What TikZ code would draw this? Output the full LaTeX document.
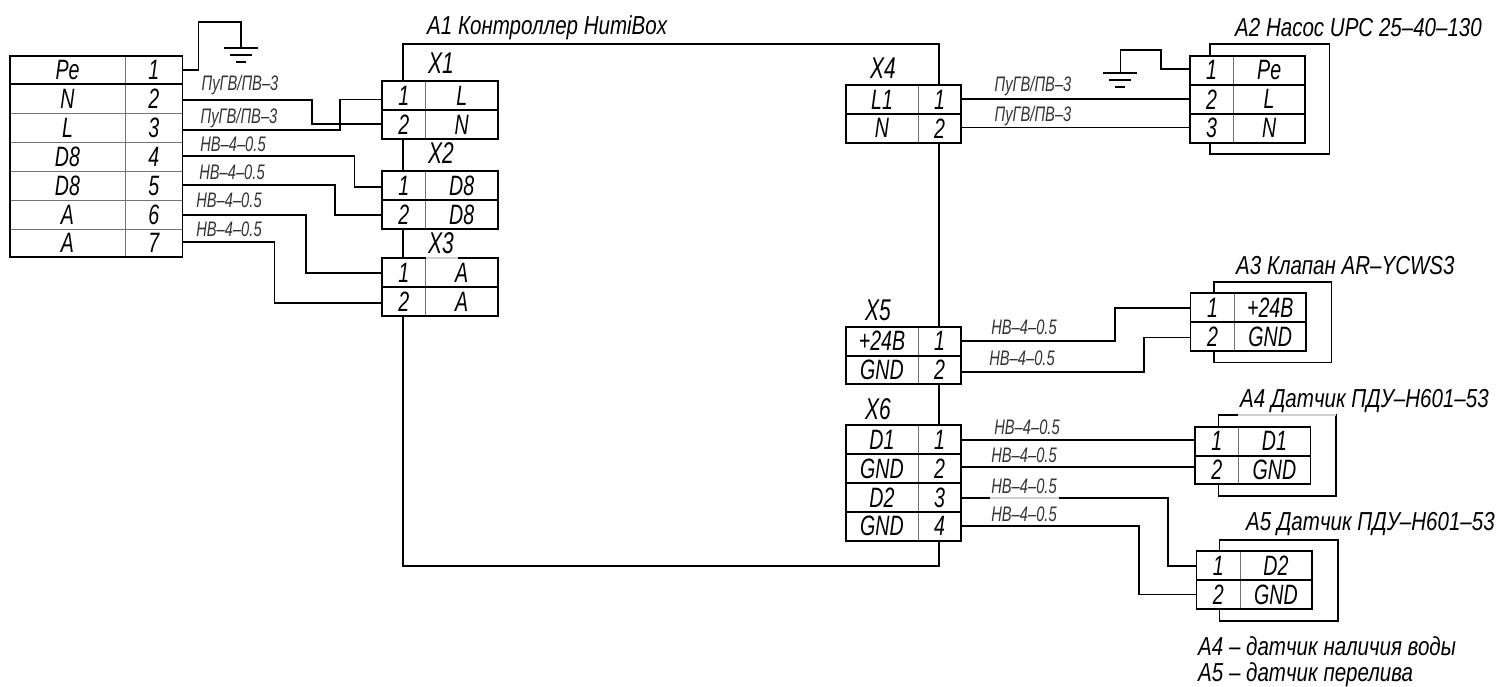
\documentclass[tikz,border=0pt]{standalone}
\usepackage{fontspec}
\setmainfont{Liberation Sans}[FakeStretch=0.7]
\newfontfamily\titlefont{Liberation Sans}[FakeStretch=0.79]

\tikzset{
  cell/.style={draw=black!55,line width=0.7pt,inner sep=0pt,outer sep=0pt,font=\fontsize{28}{28}\selectfont\itshape},
  wire/.style={line width=1.6pt},
  frame/.style={line width=1.7pt},
  faded/.style={line width=1.7pt,draw=black!18},
  title/.style={inner sep=0pt,anchor=west,font=\fontsize{26}{26}\titlefont\itshape},
  conn/.style={inner sep=0pt,font=\fontsize{30}{30}\selectfont\itshape},
  wirelabel/.style={inner sep=0pt,font=\fontsize{21}{21}\selectfont\itshape,text=black!80}
}

\begin{document}
\begin{tikzpicture}[x=1pt,y=-1pt]
\useasboundingbox (0,0) rectangle (1499,687);

\foreach \name/\xa/\xb/\xc/\ya/\yb/\ta/\tb in {
  P1/10/125/182.5/56/84/Pe/1, P2/10/125/182.5/84/113.5/N/2, P3/10/125/182.5/113.5/142.5/L/3,
  P4/10/125/182.5/142.5/171.5/D8/4, P5/10/125/182.5/171.5/200/D8/5, P6/10/125/182.5/200/229/A/6, P7/10/125/182.5/229/257/A/7,
  X11/382/425.7/497.7/81.3/110/1/L, X12/382/425.7/497.7/110/139/2/N,
  X21/382/425.7/497.7/171.3/200.3/1/D8, X22/382/425.7/497.7/200.3/229/2/D8,
  X31/382/425.7/497.7/258.3/287/1/A, X32/382/425.7/497.7/287/316/2/A,
  X41/846/918/961/85/114/L1/1, X42/846/918/961/114/142.7/N/2,
  X51/846/918/961/326.7/355.7/+24В/1, X52/846/918/961/355.7/384.3/GND/2,
  X61/846/918/961/425.3/454/D1/1, X62/846/918/961/454/483/GND/2, X63/846/918/961/483/512/D2/3, X64/846/918/961/512/540.7/GND/4,
  A21/1189.7/1233.3/1305/55.7/85/1/Pe, A22/1189.7/1233.3/1305/85/113.7/2/L, A23/1189.7/1233.3/1305/113.7/142.7/3/N,
  A31/1190.6/1234.5/1306/293.3/322.3/1/+24В, A32/1190.6/1234.5/1306/322.3/351/2/GND,
  A41/1195.3/1238.3/1310.5/426.7/455.7/1/D1, A42/1195.3/1238.3/1310.5/455.7/484.3/2/GND,
  A51/1196.5/1240/1312/551.3/580.3/1/D2, A52/1196.5/1240/1312/580.3/609/2/GND}{
  \pgfmathsetmacro\wa{\xb-\xa}
  \pgfmathsetmacro\wb{\xc-\xb}
  \pgfmathsetmacro\hh{\yb-\ya}
  \node [cell,minimum width=\wa pt,minimum height=\hh pt] (\name a) at ({(\xa+\xb)/2},{(\ya+\yb)/2}) {\ta};
  \node [cell,minimum width=\wb pt,minimum height=\hh pt] (\name b) at ({(\xb+\xc)/2},{(\ya+\yb)/2}) {\tb};
}

% heavy rules over the cells
\foreach \first/\last in {P1/P7,X11/X12,X21/X22,X31/X32,X41/X42,X51/X52,X61/X64,A21/A23,A31/A32,A41/A42,A51/A52}
  \draw [frame] (\first a.north west) rectangle (\last b.south east);
\foreach \row in {P1,X11,X21,X31,X41,X51,X61,X62,X63,A21,A22,A31,A41,A51}
  \draw [frame] (\row a.south west) -- (\row b.south east);

% controller outline
\coordinate (ctl) at (403,44);
\coordinate (ctr) at (939,44);
\coordinate (cbl) at (403,566);
\coordinate (cbr) at (939,566);
\draw [wire] (ctl |- X11a.north) -- (ctl) -- (ctr) -- (ctr |- X41a.north);
\draw [wire] (ctl |- X12a.south) -- (ctl |- X21a.north);
\draw [wire] (ctl |- X22a.south) -- (ctl |- X31a.north);
\draw [wire] (ctl |- X32a.south) -- (cbl) -- (cbr) -- (cbr |- X64a.south);
\draw [wire] (ctr |- X42a.south) -- (ctr |- X51a.north);
\draw [wire] (ctr |- X52a.south) -- (ctr |- X61a.north);

% device outlines
\foreach \first/\last/\xa/\xb/\ya/\yb in {
  A21/A23/1210/1329.3/44.3/154, A31/A32/1213.8/1331.6/282/362.3,
  A41/A42/1218.5/1336/415/495.7, A51/A52/1219.3/1338/540/620.7}
  \draw [wire] (\xa,0 |- \first a.north) -- (\xa,\ya) -- (\xb,\ya) -- (\xb,\yb) -- (\xa,\yb) -- (\xa,0 |- \last a.south);

% wires with a jog
\foreach \from/\to/\ya/\xm/\yb in {
  P2b/X12a/100/311.7/124, P3b/X11a/130/340/99.5, P4b/X21a/156/354.3/187, P5b/X22a/185/334.7/215,
  P6b/X31a/215/305.7/273, P7b/X32a/242/274.3/302.7,
  X51b/A31a/340.7/1114.7/307.7, X52b/A32a/372/1143.8/337.3,
  X63b/A51a/498/1167.8/566, X64b/A52a/526/1138.7/594.3}
  \draw [wire] (\from.east |- 0,\ya) -| (\xm,\yb) -- (\to.west |- 0,\yb);
% straight wires
\foreach \from/\to/\y in {X41b/A22a/99, X42b/A23a/127.7, X61b/A41a/439.7, X62b/A42a/467}
  \draw [wire] (\from.east |- 0,\y) -- (\to.west |- 0,\y);

% earth
\coordinate (earthl) at (241,48.3);
\coordinate (earthr) at (1120.4,73.3);
\draw [wire] (P1b.east) -| (198.3,22) -| (earthl);
\draw [wire] (A21a.west |- 0,69.3) -| (1161,50) -| (earthr);
\foreach \p in {earthl,earthr}{
  \draw [wire] ([xshift=-17pt]\p) -- ([xshift=17pt]\p);
  \draw [wire] ([xshift=-11pt,yshift=-7pt]\p) -- ([xshift=11pt,yshift=-7pt]\p);
  \draw [wire] ([xshift=-5pt,yshift=-13.5pt]\p) -- ([xshift=5pt,yshift=-13.5pt]\p);
}

% washed out bits
\draw [faded] (1238,415) -- (1336,415);
\draw [faded] (990,498) -- (1059,498);
\draw [faded] (426,258.3) -- (458,258.3);

\node [title] (a1) at (427,28) {A1 Контроллер HumiBox};
\node [title] (a2) at (1235,28) {A2 Насос UPC 25–40–130};
\node [title] (a3) at (1236,266) {A3 Клапан AR–YCWS3};
\node [title] (a4) at (1240,401) {A4 Датчик ПДУ–Н601–53};
\node [title] (a5) at (1246,524) {A5 Датчик ПДУ–Н601–53};
\node [title] (n4) at (1198,646) {A4 – датчик наличия воды};
\node [title] (n5) at (1198,675) {A5 – датчик перелива};

\node [conn] (x1) at (441,63) {X1};
\node [conn] (x2) at (441,153) {X2};
\node [conn] (x3) at (441,243) {X3};
\node [conn] (x4) at (883,68) {X4};
\node [conn] (x5) at (878,310) {X5};
\node [conn] (x6) at (878,409) {X6};

\foreach \x/\y/\t/\nm in {
  240/85/ПуГВ{/}ПВ–3/m1, 239/118/ПуГВ{/}ПВ–3/m2, 233/144/НВ–4–0.5/m3, 232/172/НВ–4–0.5/m4,
  229/200/НВ–4–0.5/m5, 229/229/НВ–4–0.5/m6, 1033/86/ПуГВ{/}ПВ–3/m7, 1033/116/ПуГВ{/}ПВ–3/m8,
  1024/327/НВ–4–0.5/m9, 1022/358/НВ–4–0.5/m10, 1027/427/НВ–4–0.5/m11, 1024/455/НВ–4–0.5/m12,
  1024/486/НВ–4–0.5/m13, 1024/514/НВ–4–0.5/m14}
  \node [wirelabel] (\nm) at (\x,\y) {\t};
\end{tikzpicture}
\end{document}
